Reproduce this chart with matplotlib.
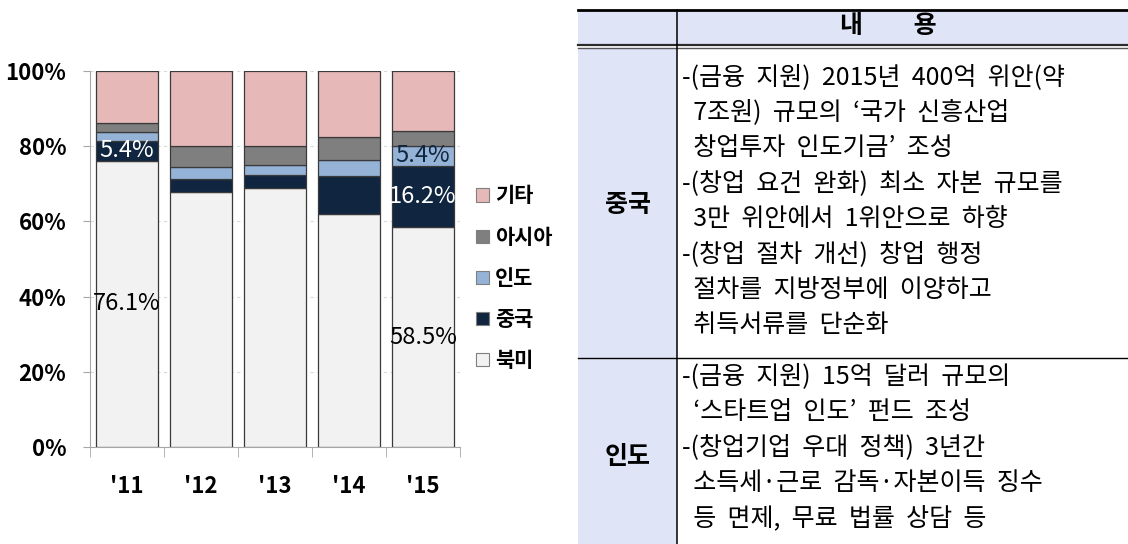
import matplotlib
matplotlib.use('Agg')
import matplotlib.pyplot as plt
import numpy as np
from matplotlib.patches import Patch, Rectangle

plt.rcParams['font.family'] = ['Noto Sans CJK KR', 'DejaVu Sans']

# ---------------- chart data (share, %) ----------------
years = ["'11", "'12", "'13", "'14", "'15"]
north_america = [76.1, 67.9, 69.0, 62.0, 58.5]
china = [5.4, 3.3, 3.3, 10.0, 16.2]
india = [2.3, 3.2, 2.8, 4.2, 5.4]
asia = [2.5, 5.6, 4.9, 6.2, 4.0]
other = [13.7, 20.0, 20.0, 17.6, 15.9]

series_names = ['북미', '중국', '인도', '아시아', '기타']
series_vals = [north_america, china, india, asia, other]
series_colors = ['#f2f2f2', '#10253f', '#95b3d7', '#7f7f7f', '#e6b9b8']

# (year index, series index, text colour) of the value labels shown
value_labels = [(0, 0, 'black'), (0, 1, 'white'),
                (4, 0, 'black'), (4, 1, 'white'), (4, 2, '#10253f')]

# ---------------- table text ----------------
table_header = '내         용'
china_label = '중국'
china_lines = ['-(금융 지원) 2015년 400억 위안(약',
               ' 7조원) 규모의 ‘국가 신흥산업',
               ' 창업투자 인도기금’ 조성',
               '-(창업 요건 완화) 최소 자본 규모를',
               ' 3만 위안에서 1위안으로 하향',
               '-(창업 절차 개선) 창업 행정',
               ' 절차를 지방정부에 이양하고',
               ' 취득서류를 단순화']
india_label = '인도'
india_lines = ['-(금융 지원) 15억 달러 규모의',
               ' ‘스타트업 인도’ 펀드 조성',
               '-(창업기업 우대 정책) 3년간',
               ' 소득세·근로 감독·자본이득 징수',
               ' 등 면제, 무료 법률 상담 등']


def widen(s):
    # the source document uses much wider word gaps than Noto's space
    return s.replace(' ', '  ')


W, H = 1128, 544
fig = plt.figure(figsize=(W / 100, H / 100), dpi=100)

# ---------------- stacked bar chart ----------------
ax = fig.add_axes([90 / W, 97 / H, 370 / W, 376 / H])
x = np.arange(len(years))
bottom = np.zeros(len(years))
for name, vals, col in zip(series_names, series_vals, series_colors):
    ax.bar(x, vals, 0.83, bottom=bottom, color=col, edgecolor='#3a3a3a',
           linewidth=0.9, label=name, zorder=3)
    bottom += np.array(vals)

for yi, si, tcol in value_labels:
    base = sum(series_vals[k][yi] for k in range(si))
    v = series_vals[si][yi]
    ax.text(x[yi], base + v / 2, f'{v:.1f}%', ha='center', va='center',
            fontsize=17, color=tcol, zorder=4)

ax.set_xlim(-0.5, 4.5)
ax.set_ylim(0, 100)
ax.set_yticks(range(0, 101, 20))
ax.set_yticklabels([f'{v}%' for v in range(0, 101, 20)],
                   fontsize=16, fontweight='bold')
ax.set_xticks(x)
ax.set_xticklabels(years, fontsize=16, fontweight='bold')
ax.set_xticks(np.arange(-0.5, 5, 1), minor=True)
ax.tick_params(axis='x', which='major', length=0, pad=20)
ax.tick_params(axis='x', which='minor', length=7, color='#a6a6a6')
ax.tick_params(axis='y', length=5, color='#a6a6a6', pad=12)
for s in ['top', 'right']:
    ax.spines[s].set_visible(False)
for s in ['left', 'bottom']:
    ax.spines[s].set_color('#a6a6a6')
ax.yaxis.grid(True, color='#d9d9d9', linestyle=(0, (3, 3)), linewidth=0.8)
ax.set_axisbelow(True)

handles = [Patch(facecolor=c, edgecolor='#7f7f7f', linewidth=0.8)
           for c in series_colors][::-1]
fig.legend(handles, series_names[::-1], loc='upper left',
           bbox_to_anchor=(468 / W, 1 - 177 / H), frameon=False,
           prop=dict(weight='bold', size=15), handlelength=0.6,
           handleheight=0.6, handletextpad=0.3, labelspacing=0.97,
           borderaxespad=0)

# ---------------- table ----------------
tx = fig.add_axes([0, 0, 1, 1])
tx.set_xlim(0, W)
tx.set_ylim(H, 0)
tx.axis('off')

x0, xc, x1 = 578, 677, W
fill = '#dfe4f7'
tx.add_patch(Rectangle((x0, 10), x1 - x0, 34, facecolor=fill, edgecolor='none'))
tx.add_patch(Rectangle((x0, 48), xc - x0, H - 48, facecolor=fill, edgecolor='none'))
tx.plot([x0, x1], [10, 10], color='black', lw=2.0)
tx.plot([x0, x1], [44.5, 44.5], color='#2b2b2b', lw=1.6)
tx.plot([x0, x1], [47.5, 47.5], color='#555555', lw=1.0)
tx.plot([xc, xc], [10, H], color='black', lw=1.1)
tx.plot([x0, x1], [358, 358], color='black', lw=1.0)

tfs = 18
tx.text(888, 26, table_header, ha='center', va='center', fontsize=18,
        fontweight='bold')
tx.text((x0 + xc) / 2, 205, china_label, ha='center', va='center',
        fontsize=18, fontweight='bold')
tx.text((x0 + xc) / 2, 457, india_label, ha='center', va='center',
        fontsize=18, fontweight='bold')
for i, line in enumerate(china_lines):
    tx.text(682, 77 + i * 35.5, widen(line), ha='left', va='center',
            fontsize=tfs)
for i, line in enumerate(india_lines):
    tx.text(682, 376 + i * 35.7, widen(line), ha='left', va='center',
            fontsize=tfs)

fig.savefig('out.png', dpi=100)
